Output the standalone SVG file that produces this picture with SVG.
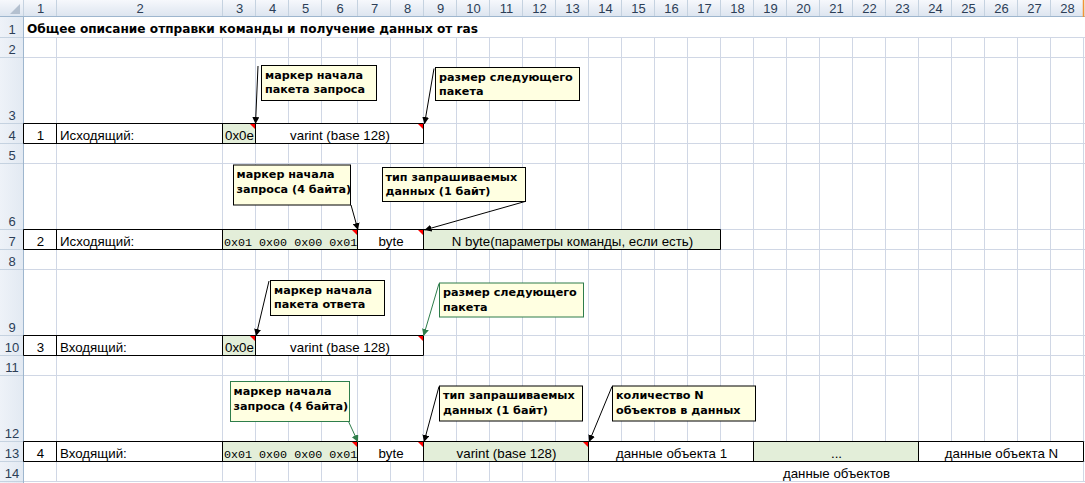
<svg xmlns="http://www.w3.org/2000/svg" width="1085" height="483" viewBox="0 0 1085 483">
<style>
.grid{stroke:#D0D7E5;stroke-width:1;fill:none}
.hsep{stroke:#C5D2E0;stroke-width:1;fill:none}
.hdr{font-family:"Liberation Sans",Arial,sans-serif;font-size:13px;fill:#2C3E57;text-anchor:middle}
.cell{font-family:"Liberation Sans",Arial,sans-serif;font-size:13.3px;fill:#000}
.mid{text-anchor:middle}
.mono{font-family:"Liberation Mono","Courier New",monospace;font-size:11.7px;fill:#000}
.title{font-family:"DejaVu Sans",Verdana,sans-serif;font-size:11.6px;font-weight:bold;fill:#000}
.bord{stroke:#000;stroke-width:1;fill:none}
.green{fill:#E3EED9}
.white{fill:#FFFFFF}
.ind{fill:#FF0000}
.box{fill:#FFFFE1;stroke:#000;stroke-width:1}
.boxg{fill:#FFFFE1;stroke:#2E7D4B;stroke-width:1}
.ctext{font-family:"DejaVu Sans",Verdana,sans-serif;font-size:11.2px;font-weight:bold;fill:#000}
.arr{stroke:#000;stroke-width:1;fill:none;marker-end:url(#ah)}
.arrg{stroke:#2E7D4B;stroke-width:1;fill:none;marker-end:url(#ahg)}
</style>
<defs>
<linearGradient id="colhdr" x1="0" y1="0" x2="0" y2="1">
<stop offset="0" stop-color="#F6F8FC"/>
<stop offset="1" stop-color="#DCE4EF"/>
</linearGradient>
<linearGradient id="rowhdr" x1="0" y1="0" x2="1" y2="0">
<stop offset="0" stop-color="#EEF2F8"/>
<stop offset="1" stop-color="#E2E9F2"/>
</linearGradient>
<marker id="ah" viewBox="0 0 10 10" refX="10" refY="5" markerWidth="7" markerHeight="7" markerUnits="userSpaceOnUse" orient="auto">
<path d="M0 0L10 5L0 10Z" fill="#000"/>
</marker>
<marker id="ahg" viewBox="0 0 10 10" refX="10" refY="5" markerWidth="7" markerHeight="7" markerUnits="userSpaceOnUse" orient="auto">
<path d="M0 0L10 5L0 10Z" fill="#2E7D4B"/>
</marker>
</defs>
<rect x="0" y="0" width="1085" height="483" fill="#FFFFFF"/>

<g id="gridlines">
<path class="grid" d="M56.5 38V482M222.5 38V482M255.5 38V482M288.5 38V482M321.5 38V482M357.5 38V482M390.5 38V482M423.5 38V482M456.5 38V482M489.5 38V482M522.5 38V482M555.5 38V482M588.5 38V482M621.5 38V482M654.5 38V482M687.5 38V482M720.5 38V482M753.5 38V482M786.5 38V482M819.5 38V482M852.5 38V482M885.5 38V482M918.5 38V482M951.5 38V482M984.5 38V482M1017.5 38V482M1050.5 38V482M1083.5 38V482"/>
<path class="grid" d="M24 37.5H1085M24 57.5H1085M24 123.5H1085M24 143.5H1085M24 163.5H1085M24 229.5H1085M24 249.5H1085M24 269.5H1085M24 335.5H1085M24 355.5H1085M24 375.5H1085M24 441.5H1085M24 461.5H1085M24 481.5H1085"/>
</g>

<g id="headers">
<rect x="0" y="0" width="1085" height="17" fill="url(#colhdr)"/>
<rect x="0" y="17" width="24" height="466" fill="url(#rowhdr)"/>
<path class="hsep" d="M23.5 0V17M56.5 0V17M222.5 0V17M255.5 0V17M288.5 0V17M321.5 0V17M357.5 0V17M390.5 0V17M423.5 0V17M456.5 0V17M489.5 0V17M522.5 0V17M555.5 0V17M588.5 0V17M621.5 0V17M654.5 0V17M687.5 0V17M720.5 0V17M753.5 0V17M786.5 0V17M819.5 0V17M852.5 0V17M885.5 0V17M918.5 0V17M951.5 0V17M984.5 0V17M1017.5 0V17M1050.5 0V17"/>
<path class="hsep" d="M0 37.5H23M0 57.5H23M0 123.5H23M0 143.5H23M0 163.5H23M0 229.5H23M0 249.5H23M0 269.5H23M0 335.5H23M0 355.5H23M0 375.5H23M0 441.5H23M0 461.5H23M0 481.5H23"/>
<path d="M0 16.5H1085M23.5 17V483" stroke="#9EB6CE" stroke-width="1" fill="none"/>
<path d="M1083.5 0V17" stroke="#F29436" stroke-width="1.5" fill="none"/>
<polygon points="20,4 20,14 10,14" fill="#B4C0CF"/>
<text class="hdr" x="40.5" y="13">1</text>
<text class="hdr" x="140" y="13">2</text>
<text class="hdr" x="239.5" y="13">3</text>
<text class="hdr" x="272.5" y="13">4</text>
<text class="hdr" x="305.5" y="13">5</text>
<text class="hdr" x="340" y="13">6</text>
<text class="hdr" x="374.5" y="13">7</text>
<text class="hdr" x="407.5" y="13">8</text>
<text class="hdr" x="440.5" y="13">9</text>
<text class="hdr" x="473.5" y="13">10</text>
<text class="hdr" x="506.5" y="13">11</text>
<text class="hdr" x="539.5" y="13">12</text>
<text class="hdr" x="572.5" y="13">13</text>
<text class="hdr" x="605.5" y="13">14</text>
<text class="hdr" x="638.5" y="13">15</text>
<text class="hdr" x="671.5" y="13">16</text>
<text class="hdr" x="704.5" y="13">17</text>
<text class="hdr" x="737.5" y="13">18</text>
<text class="hdr" x="770.5" y="13">19</text>
<text class="hdr" x="803.5" y="13">20</text>
<text class="hdr" x="836.5" y="13">21</text>
<text class="hdr" x="869.5" y="13">22</text>
<text class="hdr" x="902.5" y="13">23</text>
<text class="hdr" x="935.5" y="13">24</text>
<text class="hdr" x="968.5" y="13">25</text>
<text class="hdr" x="1001.5" y="13">26</text>
<text class="hdr" x="1034.5" y="13">27</text>
<text class="hdr" x="1067.5" y="13">28</text>
<text class="hdr" x="12" y="33.5">1</text>
<text class="hdr" x="12" y="54">2</text>
<text class="hdr" x="12" y="120">3</text>
<text class="hdr" x="12" y="140">4</text>
<text class="hdr" x="12" y="160">5</text>
<text class="hdr" x="12" y="226">6</text>
<text class="hdr" x="12" y="246">7</text>
<text class="hdr" x="12" y="266">8</text>
<text class="hdr" x="12" y="332">9</text>
<text class="hdr" x="12" y="352">10</text>
<text class="hdr" x="12" y="372">11</text>
<text class="hdr" x="12" y="438">12</text>
<text class="hdr" x="12" y="458">13</text>
<text class="hdr" x="12" y="478">14</text>
</g>

<g id="title">
<text class="title" x="27" y="33" textLength="451" lengthAdjust="spacingAndGlyphs">Общее описание отправки команды и получение данных от ras</text>
</g>

<g id="row4">
<rect class="green" x="223" y="124" width="33" height="20"/>
<rect class="white" x="256" y="124" width="168" height="20"/>
<path class="bord" d="M23.5 123.5H423.5V143.5H23.5ZM56.5 124V143M222.5 124V143M255.5 124V143"/>
<text class="cell mid" x="40.5" y="140">1</text>
<text class="cell" x="60" y="140">Исходящий:</text>
<text class="cell" x="225" y="140">0x0e</text>
<text class="cell mid" x="340" y="140">varint (base 128)</text>
<polygon class="ind" points="250,124 255,124 255,129"/>
<polygon class="ind" points="418,124 423,124 423,129"/>
</g>

<g id="row7">
<rect class="green" x="223" y="230" width="135" height="20"/>
<rect class="white" x="358" y="230" width="66" height="20"/>
<rect class="green" x="424" y="230" width="297" height="20"/>
<path class="bord" d="M23.5 229.5H720.5V249.5H23.5ZM56.5 230V249M222.5 230V249M357.5 230V249M423.5 230V249"/>
<text class="cell mid" x="40.5" y="246">2</text>
<text class="cell" x="60" y="246">Исходящий:</text>
<text class="mono" x="224" y="245.5">0x01 0x00 0x00 0x01</text>
<text class="cell mid" x="391" y="246">byte</text>
<text class="cell mid" x="572.5" y="246">N byte(параметры команды, если есть)</text>
<polygon class="ind" points="352,230 357,230 357,235"/>
<polygon class="ind" points="418,230 423,230 423,235"/>
</g>

<g id="row10">
<rect class="green" x="223" y="336" width="33" height="20"/>
<rect class="white" x="256" y="336" width="168" height="20"/>
<path class="bord" d="M23.5 335.5H423.5V355.5H23.5ZM56.5 336V355M222.5 336V355M255.5 336V355"/>
<text class="cell mid" x="40.5" y="352">3</text>
<text class="cell" x="60" y="352">Входящий:</text>
<text class="cell" x="225" y="352">0x0e</text>
<text class="cell mid" x="340" y="352">varint (base 128)</text>
<polygon class="ind" points="250,336 255,336 255,341"/>
<polygon class="ind" points="418,336 423,336 423,341"/>
</g>

<g id="row13">
<rect class="green" x="223" y="442" width="135" height="20"/>
<rect class="white" x="358" y="442" width="66" height="20"/>
<rect class="green" x="424" y="442" width="165" height="20"/>
<rect class="white" x="589" y="442" width="165" height="20"/>
<rect class="green" x="754" y="442" width="165" height="20"/>
<rect class="white" x="919" y="442" width="165" height="20"/>
<path class="bord" d="M23.5 441.5H1083.5V461.5H23.5ZM56.5 442V461M222.5 442V461M357.5 442V461M423.5 442V461M588.5 442V461M753.5 442V461M918.5 442V461"/>
<text class="cell mid" x="40.5" y="458">4</text>
<text class="cell" x="60" y="458">Входящий:</text>
<text class="mono" x="224" y="457.5">0x01 0x00 0x00 0x01</text>
<text class="cell mid" x="391" y="458">byte</text>
<text class="cell mid" x="506.5" y="458">varint (base 128)</text>
<text class="cell mid" x="671.5" y="458">данные объекта 1</text>
<text class="cell mid" x="836.5" y="458">...</text>
<text class="cell mid" x="1001.5" y="458">данные объекта N</text>
<polygon class="ind" points="352,442 357,442 357,447"/>
<polygon class="ind" points="418,442 423,442 423,447"/>
<polygon class="ind" points="583,442 588,442 588,447"/>
</g>

<g id="row14">
<rect class="white" x="589" y="462" width="494" height="19"/>
<text class="cell mid" x="836.5" y="478">данные объектов</text>
</g>

<g id="connectors">
<line class="arr" x1="258" y1="66" x2="255.5" y2="124"/>
<line class="arr" x1="434" y1="68.5" x2="424.5" y2="124"/>
<line class="arr" x1="351" y1="205" x2="358" y2="230"/>
<line class="arr" x1="525" y1="201.5" x2="424.5" y2="230"/>
<line class="arr" x1="269" y1="281" x2="256" y2="336"/>
<line class="arrg" x1="439" y1="283.5" x2="423.5" y2="336"/>
<line class="arrg" x1="348.5" y1="421.5" x2="358" y2="442"/>
<line class="arr" x1="439" y1="386.5" x2="424" y2="442"/>
<line class="arr" x1="612" y1="386.5" x2="589" y2="442"/>
</g>

<g id="note-a">
<rect class="box" x="261.5" y="65.5" width="115" height="35"/>
<text class="ctext" x="265" y="78.5">маркер начала</text>
<text class="ctext" x="265" y="93">пакета запроса</text>
</g>
<g id="note-b">
<rect class="box" x="435.5" y="67.5" width="144" height="33"/>
<text class="ctext" x="439" y="80.5">размер следующего</text>
<text class="ctext" x="439" y="95">пакета</text>
</g>
<g id="note-c">
<rect class="box" x="233.5" y="165" width="117" height="40"/>
<text class="ctext" x="236.5" y="178">маркер начала</text>
<text class="ctext" x="236.5" y="193">запроса (4 байта)</text>
</g>
<g id="note-d">
<rect class="box" x="382.5" y="167.5" width="143" height="34"/>
<text class="ctext" x="385.5" y="180.5">тип запрашиваемых</text>
<text class="ctext" x="385.5" y="195">данных (1 байт)</text>
</g>
<g id="note-e">
<rect class="box" x="270.5" y="280.5" width="114" height="35"/>
<text class="ctext" x="274" y="293.5">маркер начала</text>
<text class="ctext" x="274" y="308">пакета ответа</text>
</g>
<g id="note-f">
<rect class="boxg" x="439.5" y="283" width="144" height="34"/>
<text class="ctext" x="443" y="296">размер следующего</text>
<text class="ctext" x="443" y="310.5">пакета</text>
</g>
<g id="note-g">
<rect class="boxg" x="230.5" y="381.5" width="119" height="40"/>
<text class="ctext" x="233.5" y="395">маркер начала</text>
<text class="ctext" x="233.5" y="409.5">запроса (4 байта)</text>
</g>
<g id="note-h">
<rect class="box" x="439.5" y="386" width="143" height="35"/>
<text class="ctext" x="443" y="399">тип запрашиваемых</text>
<text class="ctext" x="443" y="413.5">данных (1 байт)</text>
</g>
<g id="note-i">
<rect class="box" x="612.5" y="386" width="143" height="35"/>
<text class="ctext" x="616" y="399">количество N</text>
<text class="ctext" x="616" y="413.5">объектов в данных</text>
</g>
</svg>
